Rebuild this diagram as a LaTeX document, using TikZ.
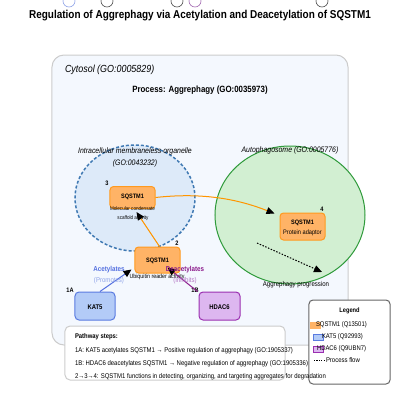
\documentclass[tikz,border=0pt]{standalone}
\usepackage{fontspec}
\setmainfont[FakeStretch=0.87]{Liberation Sans}
\usetikzlibrary{arrows.meta,calc,shapes.geometric}
\definecolor{cytofill}{HTML}{F4F8FE}
\definecolor{cytoline}{HTML}{CCCCCC}
\definecolor{orgfill}{HTML}{DDEAF9}
\definecolor{orgline}{HTML}{3F79B3}
\definecolor{apfill}{HTML}{D2EFD2}
\definecolor{apline}{HTML}{2E9A3A}
\definecolor{sqfill}{HTML}{FFB366}
\definecolor{sqline}{HTML}{FF9A1F}
\definecolor{katfill}{HTML}{B3CBF7}
\definecolor{katline}{HTML}{5A7BE0}
\definecolor{hdfill}{HTML}{DDB7F0}
\definecolor{hdline}{HTML}{9A2FB0}
\definecolor{acol}{HTML}{5470E0}
\definecolor{acol2}{HTML}{8FA3E8}
\definecolor{dcol}{HTML}{8B1A8B}
\definecolor{dcol2}{HTML}{B374C4}
\definecolor{orarrow}{HTML}{FF9500}
\begin{document}
\begin{tikzpicture}[x=1bp,y=-1bp,
  fsz/.style={font=\fontsize{#1}{#1}\selectfont},
  txt/.style={inner sep=0pt,outer sep=0pt},
  sqbox/.style={draw=sqline,fill=sqfill,line width=1bp,rounded corners=3.5bp,minimum width=45bp,inner sep=0pt},
  tiphead/.style={-{Triangle[length=8bp,width=7bp,color=black]}},
  legpatch/.style={inner sep=0pt,minimum width=10bp,minimum height=6bp}]
\useasboundingbox (0,0) rectangle (400,400);
% stray circles at top
\draw[line width=0.6bp,color=acol2] (69,1) circle (6);
\draw[line width=0.6bp,color=black!70] (107,1) circle (6);
\draw[line width=0.6bp,color=black!70] (177,1) circle (6);
\draw[line width=0.6bp,color=dcol2!90!black] (195,1) circle (6);
\draw[line width=0.6bp,color=black!70] (322,1) circle (6);
% title
\node[txt,fsz=11.5] (title) at (200,16) {\bfseries Regulation of Aggrephagy via Acetylation and Deacetylation of SQSTM1};
% cytosol
\node[draw=cytoline,fill=cytofill,line width=1bp,rounded corners=12bp,minimum width=296bp,minimum height=290bp,inner sep=0pt] (cyto) at (200,200) {};
\node[txt,fsz=10.3,anchor=west] (cytolab) at (65,70) {\itshape Cytosol (GO:0005829)};
\node[txt,fsz=9.1] (proclab) at (200,90) {\bfseries Process: Aggrephagy (GO:0035973)};
% organelle
\node[ellipse,draw=orgline,fill=orgfill,line width=1.5bp,dash pattern=on 3bp off 2bp,minimum width=120bp,minimum height=106bp,inner sep=0pt] (org) at (135,198) {};
\node[txt,fsz=8] (orglab1) at (135,151) {\itshape Intracellular membraneless organelle};
\node[txt,fsz=8] (orglab2) at (135,163) {\itshape (GO:0043232)};
% autophagosome
\node[ellipse,draw=apline,fill=apfill,line width=1bp,minimum width=150bp,minimum height=138bp,inner sep=0pt] (ap) at (290,215) {};
\node[txt,fsz=8] (aplab) at (290,150) {\itshape Autophagosome (GO:0005776)};
% pathway steps box
\node[draw=cytoline,fill=white,line width=1bp,rounded corners=5bp,minimum width=220bp,minimum height=54bp,inner sep=0pt] (steps) at (175,353) {};
% SQSTM1 nodes
\node[sqbox,minimum height=22bp] (s3) at (132.5,197.5) {};
\node[txt,fsz=6.4] at (132.5,197) {\bfseries SQSTM1};
\node[txt,fsz=5.3] (s3a) at (132.5,209) {Molecular condensate};
\node[txt,fsz=5.3] (s3b) at (133,218) {scaffold activity};
\node[txt,fsz=6.5] at (107,183) {\bfseries 3};
\node[sqbox,minimum height=26bp] (s2) at (157.5,260) {};
\node[txt,fsz=6.4] at (157.5,261) {\bfseries SQSTM1};
\node[txt,fsz=6.1] (s2a) at (157,277) {Ubiquitin reader activity};
\node[txt,fsz=6.5] at (177,243) {\bfseries 2};
\node[sqbox,minimum height=27bp] (s4) at (302.5,226.5) {};
\node[txt,fsz=6.4] at (302.5,223) {\bfseries SQSTM1};
\node[txt,fsz=6.5] (s4a) at (302.5,233) {Protein adaptor};
\node[txt,fsz=6.5] at (322,209) {\bfseries 4};
% regulators
\node[draw=katline,fill=katfill,line width=1bp,rounded corners=4bp,minimum width=40bp,minimum height=28bp,inner sep=0pt] (kat) at (95,306) {};
\node[txt,fsz=6.8] at (95,307) {\bfseries KAT5};
\node[txt,fsz=6.5] at (70,290) {\bfseries 1A};
\node[draw=hdline,fill=hdfill,line width=1bp,rounded corners=4bp,minimum width=41bp,minimum height=28bp,inner sep=0pt] (hd) at (219.5,306) {};
\node[txt,fsz=6.8] at (219.5,307) {\bfseries HDAC6};
\node[txt,fsz=6.5] at (195,290) {\bfseries 1B};
% arrows
\draw[color=acol,line width=1bp,tiphead] ($(kat.north)+(5,0)$) -- ($(s2.south west)+(-3,-4)$);
\draw[color=dcol,line width=1bp,tiphead] ($(hd.north west)+(-1,0)$) -- ($(s2.south east)+(-13,-6)$);
\draw[color=orarrow,line width=1bp,tiphead] ($(s2.north)+(2,0)$) -- ($(s3.south)+(4,3)$);
\draw[color=orarrow,line width=1bp,tiphead] (s3.east) .. controls (205,192) and (240,200) .. ($(s4.west)+(-5,-13)$);
\coordinate (dotstart) at (257,243);
\coordinate (dotend) at (322,272);
\draw[color=black,line width=1bp,dash pattern=on 1.5bp off 1.5bp,tiphead] (dotstart) -- (dotend);
\node[txt,fsz=7] (aglab) at (296,285) {Aggrephagy progression};
% regulation labels
\node[txt,fsz=7.2,color=acol] at (109,270) {\bfseries Acetylates};
\node[txt,fsz=7,color=acol2] at (109,281) {(Promotes)};
\node[txt,fsz=7.2,color=dcol] at (185,270) {\bfseries Deacetylates};
\node[txt,fsz=7,color=dcol2] at (185,281) {(Inhibits)};
% legend
\node[draw=black!60,fill=white,line width=1bp,rounded corners=4bp,minimum width=81bp,minimum height=84bp,inner sep=0pt] (leg) at (349.5,342) {};
\node[txt,fsz=6.6] at (349.5,311) {\bfseries Legend};
\node[legpatch,fill=sqfill,draw=sqfill] (lp1) at (315,325) {};
\node[legpatch,fill=katfill,draw=katline] (lp2) at (318,337) {};
\node[legpatch,fill=hdfill,draw=hdline] (lp3) at (318,349) {};
\node[txt,fsz=6.8,anchor=west] at (316,325) {SQSTM1 (Q13501)};
\node[txt,fsz=6.8,anchor=west] at (322,337) {KAT5 (Q92993)};
\node[txt,fsz=6.8,anchor=west] at (317,349) {HDAC6 (Q9UBN7)};
\coordinate (ld1) at (314,360);
\coordinate (ld2) at (324,360);
\draw[black,line width=0.8bp,dash pattern=on 1.2bp off 1.2bp] (ld1) -- (ld2);
\node[txt,fsz=6.9,anchor=west] at (326,360) {Process flow};
% steps text
\node[txt,fsz=6.8,anchor=west] at (75,337) {\bfseries Pathway steps:};
\node[txt,fsz=6.9,anchor=west] at (75,351) {1A: KAT5 acetylates SQSTM1 → Positive regulation of aggrephagy (GO:1905337)};
\node[txt,fsz=6.9,anchor=west] at (75,364) {1B: HDAC6 deacetylates SQSTM1 → Negative regulation of aggrephagy (GO:1905336)};
\node[txt,fsz=6.9,anchor=west] at (75,377) {2→3→4: SQSTM1 functions in detecting, organizing, and targeting aggregates for degradation};
\end{tikzpicture}
\end{document}
